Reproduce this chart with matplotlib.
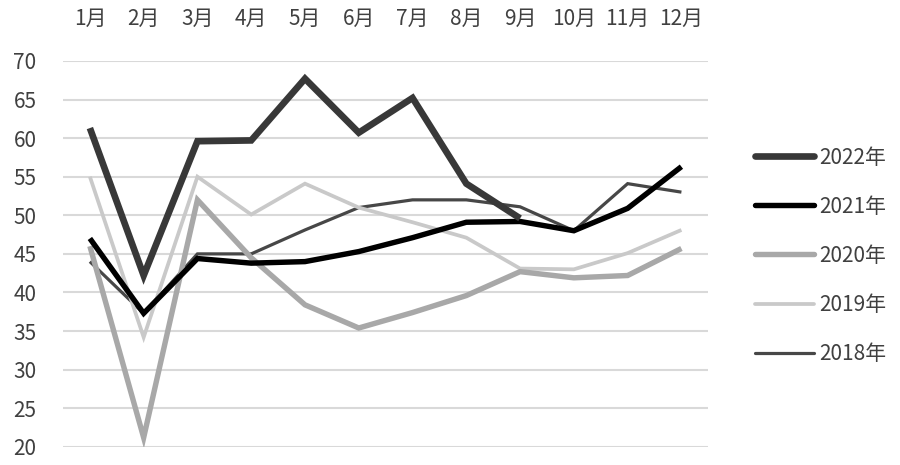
import matplotlib.pyplot as plt

plt.rcParams['font.family'] = ['Noto Sans CJK SC', 'DejaVu Sans']

# data
months = ['1月', '2月', '3月', '4月', '5月', '6月', '7月', '8月', '9月', '10月', '11月', '12月']
v2022 = [61.3, 42.2, 59.6, 59.7, 67.7, 60.7, 65.2, 54.1, 49.6]
v2021 = [47.0, 37.3, 44.4, 43.8, 44.0, 45.3, 47.1, 49.1, 49.2, 48.0, 50.9, 56.3]
v2020 = [46.0, 21.2, 52.0, 44.5, 38.4, 35.4, 37.4, 39.6, 42.7, 41.9, 42.2, 45.7]
v2019 = [55.0, 34.2, 55.0, 50.1, 54.1, 51.0, 49.1, 47.1, 43.1, 43.0, 45.1, 48.1]
v2018 = [44.0, 37.3, 45.0, 45.0, 48.1, 51.0, 52.0, 52.0, 51.1, 48.0, 54.1, 53.0]

series = [
    ('2022年', v2022, '#383838', 4.8),
    ('2021年', v2021, '#000000', 3.9),
    ('2020年', v2020, '#a8a8a8', 3.9),
    ('2019年', v2019, '#c9c9c9', 2.7),
    ('2018年', v2018, '#474747', 2.3),
]

fig = plt.figure(figsize=(9, 4.65), dpi=100)
ax = fig.add_axes([0.07, 0.039, 0.717, 0.83])

x = list(range(len(months)))
# draw in reverse so 2022 sits on top
for name, vals, color, lw in reversed(series):
    ax.plot(x[:len(vals)], vals, color=color, lw=lw, label=name,
            solid_joinstyle='miter', solid_capstyle='butt')

ax.set_ylim(20, 70)
ax.set_yticks(range(20, 71, 5))
ax.set_xlim(-0.5, 11.5)
ax.set_xticks(x)
ax.set_xticklabels(months)
ax.xaxis.tick_top()
ax.tick_params(axis='x', length=0, pad=22, labelsize=15, colors='#404040')
ax.tick_params(axis='y', length=0, pad=19, labelsize=15, colors='#404040')
ax.grid(axis='y', color='#d9d9d9', lw=1.5)
ax.set_axisbelow(True)
for s in ax.spines.values():
    s.set_visible(False)

handles, labels = ax.get_legend_handles_labels()
leg = fig.legend(handles[::-1], labels[::-1], loc='center left',
                 bbox_to_anchor=(0.818, 0.45), frameon=False,
                 fontsize=15, handlelength=2.85, handletextpad=0.25,
                 labelspacing=1.3, labelcolor='#404040')
for h in leg.get_lines():
    h.set_solid_capstyle('round')

fig.savefig('out.png', dpi=100)
